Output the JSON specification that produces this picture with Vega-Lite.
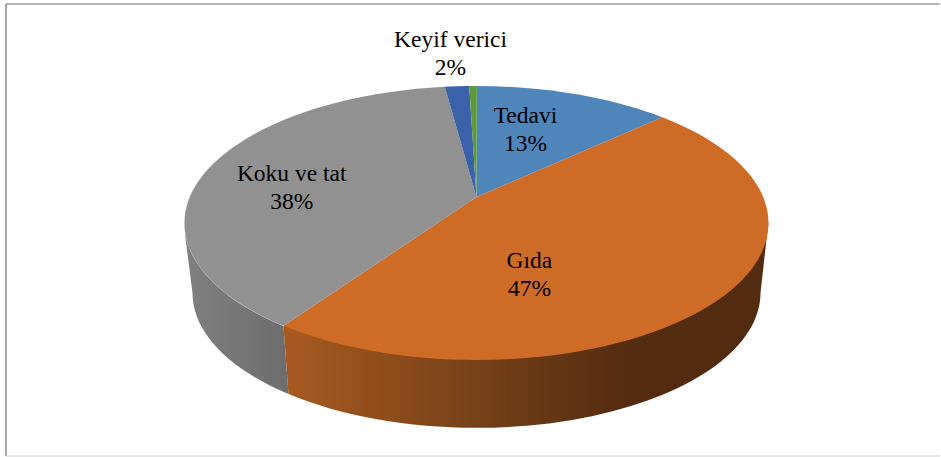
{"$schema":"https://vega.github.io/schema/vega-lite/v6.json","width":941,"height":457,"padding":0,"autosize":{"type":"fit","contains":"padding"},"background":"white","view":{"stroke":null},"config":{"axis":{"domain":false,"grid":false,"ticks":false,"labels":false,"title":null}},"data":{"values":[{"category":"Tedavi","percent":13,"label":"Tedavi\n13%"},{"category":"Gıda","percent":47,"label":"Gıda\n47%"},{"category":"Koku ve tat","percent":38,"label":"Koku ve tat\n38%"},{"category":"Etiketsiz","percent":2,"label":""},{"category":"Keyif verici","percent":2,"label":"Keyif verici\n2%"}]},"encoding":{"x":{"datum":0,"type":"quantitative","axis":null,"scale":{"domain":[-477,464],"nice":false,"zero":false}},"y":{"datum":0,"type":"quantitative","axis":null,"scale":{"domain":[-223,234],"reverse":true,"nice":false,"zero":false}}},"layer":[{"transform":[{"filter":"datum.category==='Tedavi'"}],"mark":{"type":"rule","stroke":"#9c9c9c","strokeWidth":1.5},"encoding":{"x":{"datum":-471,"type":"quantitative"},"x2":{"datum":464},"y":{"datum":-219,"type":"quantitative"}}},{"transform":[{"filter":"datum.category==='Tedavi'"}],"mark":{"type":"rule","stroke":"#8a8a8a","strokeWidth":1.5},"encoding":{"x":{"datum":-471,"type":"quantitative"},"y":{"datum":-219,"type":"quantitative"},"y2":{"datum":233}}},{"transform":[{"filter":"datum.category==='Tedavi'"}],"mark":{"type":"rule","stroke":"#dedede","strokeWidth":1.5},"encoding":{"x":{"datum":-471,"type":"quantitative"},"x2":{"datum":464},"y":{"datum":233,"type":"quantitative"}}},{"transform":[{"filter":"datum.category==='Koku ve tat'"}],"mark":{"type":"point","filled":true,"opacity":1,"size":4,"shape":"M-292,0 L-291,15 L-284,70 A284,135 0 0 0 -188,171 L-193,103 A292,137 0 0 1 -292,0 Z","fill":{"gradient":"linear","x1":0,"x2":1,"y1":0,"y2":0,"stops":[{"offset":0,"color":"#808080"},{"offset":1,"color":"#6d6d6d"}]}}},{"transform":[{"filter":"datum.category==='Gıda'"}],"mark":{"type":"point","filled":true,"opacity":1,"size":4,"shape":"M-193,103 L-188,171 A284,135 0 0 0 284,70 L290.7,10 L292,0 L200,60 Z","fill":{"gradient":"linear","x1":0,"x2":1,"y1":0,"y2":0,"stops":[{"offset":0,"color":"#a85a20"},{"offset":0.2,"color":"#8f4e1c"},{"offset":0.5,"color":"#6a3a15"},{"offset":0.72,"color":"#532b10"},{"offset":1,"color":"#532b10"}]}}},{"mark":{"type":"point","filled":true,"opacity":1,"size":4},"encoding":{"color":{"field":"category","type":"nominal","legend":null,"scale":{"domain":["Tedavi","Gıda","Koku ve tat","Etiketsiz","Keyif verici"],"range":["#4e86bc","#ce6b27","#919191","#3b62a8","#5e9a3c"]}},"shape":{"field":"category","type":"nominal","legend":null,"scale":{"domain":["Tedavi","Gıda","Koku ve tat","Etiketsiz","Keyif verici"],"range":["M0,-26 L0.3,-137 A292,137 0 0 1 185.7,-105.7 Z","M0,-26 L185.7,-105.7 A292,137 0 0 1 292,0 A292,137 0 0 1 0,137 A292,137 0 0 1 -193,102.8 Z","M0,-26 L-193,102.8 A292,137 0 0 1 -292,0 A292,137 0 0 1 -31.7,-136.2 Z","M0,-26 L-31.7,-136.2 A292,137 0 0 1 -7.3,-137 Z","M0,-26 L-7.3,-137 A292,137 0 0 1 0.3,-137 Z"]}}}},{"transform":[{"filter":"datum.category==='Tedavi'"}],"mark":{"type":"text","font":"Liberation Serif","fontSize":23.5,"lineBreak":"\n","lineHeight":28,"color":"#000","align":"center","baseline":"middle"},"encoding":{"x":{"datum":49,"type":"quantitative"},"y":{"datum":-107,"type":"quantitative"},"text":{"field":"label"}}},{"transform":[{"filter":"datum.category==='Gıda'"}],"mark":{"type":"text","font":"Liberation Serif","fontSize":23.5,"lineBreak":"\n","lineHeight":28,"color":"#000","align":"center","baseline":"middle"},"encoding":{"x":{"datum":53,"type":"quantitative"},"y":{"datum":38,"type":"quantitative"},"text":{"field":"label"}}},{"transform":[{"filter":"datum.category==='Koku ve tat'"}],"mark":{"type":"text","font":"Liberation Serif","fontSize":23.5,"lineBreak":"\n","lineHeight":28,"color":"#000","align":"center","baseline":"middle"},"encoding":{"x":{"datum":-185,"type":"quantitative"},"y":{"datum":-49,"type":"quantitative"},"text":{"field":"label"}}},{"transform":[{"filter":"datum.category==='Keyif verici'"}],"mark":{"type":"text","font":"Liberation Serif","fontSize":23.5,"lineBreak":"\n","lineHeight":28,"color":"#000","align":"center","baseline":"middle"},"encoding":{"x":{"datum":-26,"type":"quantitative"},"y":{"datum":-183.5,"type":"quantitative"},"text":{"field":"label"}}}]}
